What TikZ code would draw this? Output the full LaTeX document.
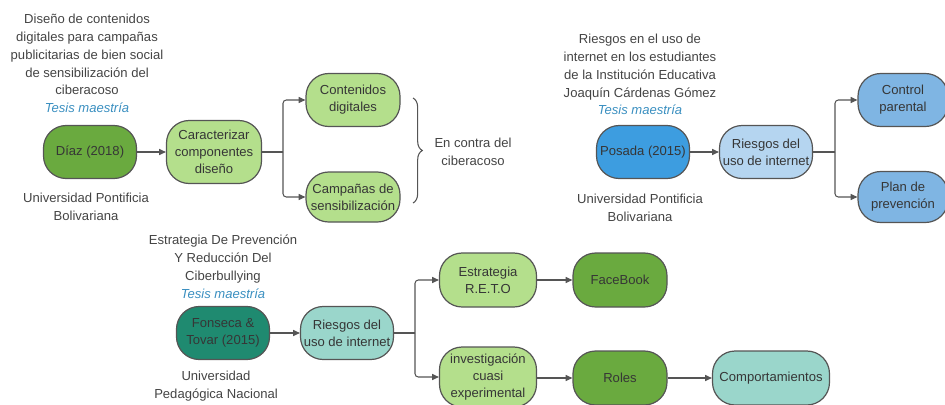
\documentclass[tikz,border=0pt]{standalone}
\usepackage{fontspec}
\setmainfont{Liberation Sans}
\usetikzlibrary{arrows.meta,decorations.pathreplacing}
\definecolor{dgreen}{HTML}{6AAA3F}
\definecolor{lgreen}{HTML}{B4DF8C}
\definecolor{dblue}{HTML}{3D9DE0}
\definecolor{lblue}{HTML}{B5D5F0}
\definecolor{mblue}{HTML}{7FB5E3}
\definecolor{dteal}{HTML}{1F8A70}
\definecolor{lteal}{HTML}{9AD6CB}
\definecolor{edge}{HTML}{555555}
\definecolor{txt}{HTML}{444444}
\definecolor{tesis}{HTML}{3A8FC0}
\tikzset{
  bx/.style={draw=edge, line width=0.9pt, rounded corners=17pt, align=center, inner sep=0pt,
    text=txt!80!black, font=\fontsize{9.8}{12.75}\selectfont},
  lbl/.style={align=center, inner sep=0pt, text=txt, font=\fontsize{9.8}{13.4}\selectfont},
  ln/.style={draw=edge, line width=0.8pt},
  arr/.style={draw=edge, line width=0.8pt, -{Triangle[length=5pt,width=4.5pt]}, rounded corners=2.5pt},
}
\newcommand{\tesisline}{{\color{tesis}\itshape Tesis maestría}}
\begin{document}
\begin{tikzpicture}[x=0.75pt,y=-0.75pt]
\useasboundingbox (0,0) rectangle (945,404);
% ---------- group 1 ----------
\node[lbl] (t1) at (87,63.5) {Diseño de contenidos\\digitales para campañas\\publicitarias de bien social\\de sensibilización del\\ciberacoso\\\tesisline};
\node[bx, fill=dgreen, minimum width=69.75pt, minimum height=39.75pt] (diaz) at (90,152) {Díaz (2018)};
\node[lbl] (u1) at (86,207) {Universidad Pontificia\\Bolivariana};
\node[bx, fill=lgreen, minimum width=71.25pt, minimum height=47.25pt] (car) at (214,152) {Caracterizar\\componentes\\diseño};
\node[bx, fill=lgreen, minimum width=70.5pt, minimum height=39.75pt] (cont) at (353,100) {Contenidos\\digitales};
\node[bx, fill=lgreen, minimum width=70.5pt, minimum height=37.5pt] (camp) at (353,197) {Campañas de\\sensibilización};
\coordinate (j1) at (283,152);
\draw[arr] (diaz) -- (car);
\draw[ln] (car.east) -- (j1);
\draw[arr] (j1) |- (cont.west);
\draw[arr] (j1) |- (camp.west);
\coordinate (b1) at (413,98);
\coordinate (b2) at (413,203);
\draw[draw=edge, line width=0.8pt, decorate, decoration={brace, amplitude=7pt}] (b1) -- (b2);
\node[lbl] (contra) at (473,152) {En contra del\\ciberacoso};
% ---------- group 2 ----------
\node[lbl] (t2) at (640,74.5) {Riesgos en el uso de\\internet en los estudiantes\\de la Institución Educativa\\Joaquín Cárdenas Gómez\\\tesisline};
\node[bx, fill=dblue, minimum width=69.75pt, minimum height=39.75pt] (pos) at (643,152) {Posada (2015)};
\node[lbl] (u2) at (640,208) {Universidad Pontificia\\Bolivariana};
\node[bx, fill=lblue, minimum width=69.75pt, minimum height=39.75pt] (rie1) at (766,152) {Riesgos del\\uso de internet};
\node[bx, fill=mblue, minimum width=67.5pt, minimum height=39.75pt] (ctrl) at (903,100) {Control\\parental};
\node[bx, fill=mblue, minimum width=67.5pt, minimum height=38.25pt] (plan) at (903,197) {Plan de\\prevención};
\coordinate (j2) at (835,152);
\draw[arr] (pos) -- (rie1);
\draw[ln] (rie1.east) -- (j2);
\draw[arr] (j2) |- (ctrl.west);
\draw[arr] (j2) |- (plan.west);
% ---------- group 3 ----------
\node[lbl] (t3) at (223,267) {Estrategia De Prevención\\Y Reducción Del\\Ciberbullying\\\tesisline};
\node[bx, fill=dteal, minimum width=69.75pt, minimum height=39.75pt] (fon) at (223,333) {Fonseca \&\\Tovar (2015)};
\node[lbl] (u3) at (216,386) {Universidad\\Pedagógica Nacional};
\node[bx, fill=lteal, minimum width=69.75pt, minimum height=39.75pt] (rie2) at (347,333) {Riesgos del\\uso de internet};
\node[bx, fill=lgreen, minimum width=72.75pt, minimum height=40.5pt] (reto) at (488,280) {Estrategia\\R.E.T.O};
\node[bx, fill=lgreen, minimum width=72.75pt, minimum height=45pt] (inv) at (488,377) {investigación\\cuasi\\experimental};
\node[bx, fill=dgreen, minimum width=70.5pt, minimum height=40.5pt] (fb) at (620,280) {FaceBook};
\node[bx, fill=dgreen, minimum width=70.5pt, minimum height=40.5pt] (rol) at (620,378) {Roles};
\node[bx, fill=lteal, minimum width=87.75pt, minimum height=40.5pt] (comp) at (771,378) {Comportamientos};
\coordinate (j3) at (415,333);
\draw[arr] (fon) -- (rie2);
\draw[ln] (rie2.east) -- (j3);
\draw[arr] (j3) |- (reto.west);
\draw[arr] (j3) |- (inv.west);
\draw[arr] (reto) -- (fb);
\draw[arr] (inv.east |- rol) -- (rol);
\draw[arr] (rol) -- (comp);
\end{tikzpicture}
\end{document}
